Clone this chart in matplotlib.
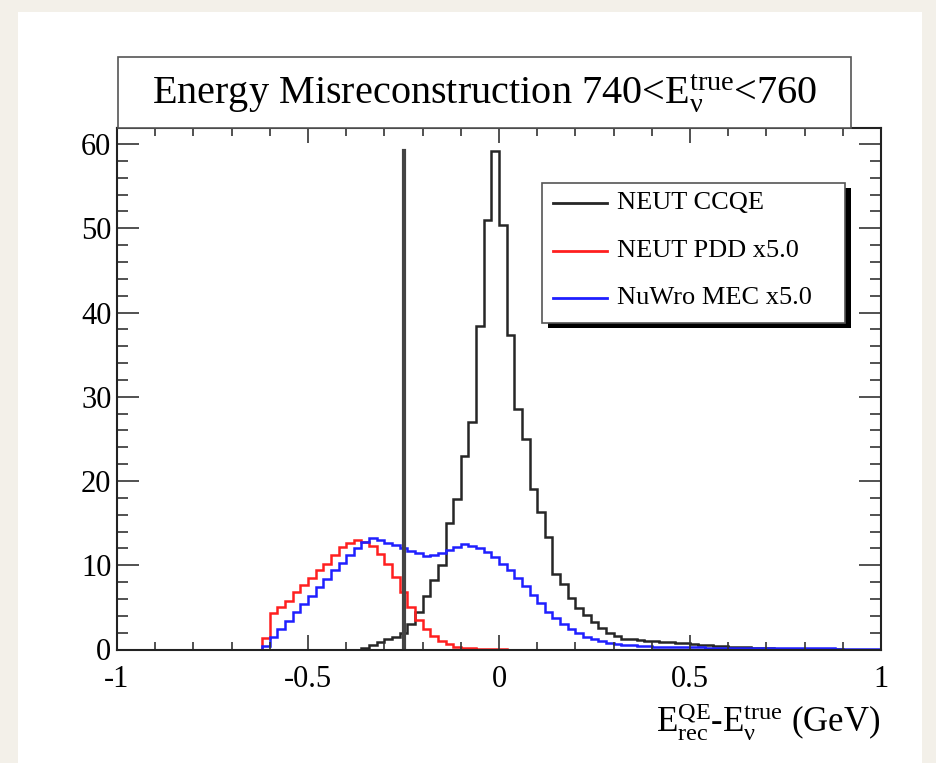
import numpy as np
import matplotlib
matplotlib.use('Agg')
import matplotlib.pyplot as plt
from matplotlib.patches import Rectangle
from matplotlib.lines import Line2D

plt.rcParams['font.family'] = ['Liberation Serif', 'DejaVu Serif']
plt.rcParams['mathtext.fontset'] = 'custom'
plt.rcParams['mathtext.rm'] = 'Liberation Serif'
plt.rcParams['mathtext.it'] = 'Liberation Serif:italic'
plt.rcParams['mathtext.bf'] = 'Liberation Serif:bold'

# 100 bins of 20 MeV between -1 and 1 GeV
bin_lo, bin_hi, n_bins = -1.0, 1.0, 100
cut_value = -0.25

# NEUT CCQE, first bin starts at -0.36
ccqe_first = -0.36
ccqe_vals = [0.15, 0.5, 0.9, 1.2, 1.5, 2.0, 3.0, 4.5, 6.3, 8.2,
             10.0, 15.0, 17.9, 23.0, 27.0, 38.4, 51.0, 59.2, 50.4, 37.3,
             28.6, 25.0, 19.1, 16.3, 13.4, 9.0, 7.8, 6.1, 4.9, 4.1,
             3.3, 2.5, 1.9, 1.6, 1.3, 1.2, 1.1, 1.0, 0.95, 0.9,
             0.85, 0.8, 0.75, 0.65, 0.55, 0.5, 0.45, 0.4, 0.35, 0.3,
             0.25, 0.2, 0.15, 0.12, 0.1, 0.08, 0.06, 0.05, 0.04, 0.03,
             0.02, 0.02, 0.01]

# NEUT PDD x5, first bin starts at -0.62
pdd_first = -0.62
pdd_vals = [1.4, 4.3, 5.0, 5.8, 6.8, 7.6, 8.5, 9.4, 10.2, 11.2,
            12.2, 12.7, 13.0, 12.8, 12.3, 11.3, 10.2, 8.6, 6.8, 5.0,
            3.5, 2.4, 1.6, 1.0, 0.6, 0.35, 0.2, 0.12, 0.08, 0.05,
            0.03, 0.02]

# NuWro MEC x5, first bin starts at -0.62
mec_first = -0.62
mec_vals = [0.4, 1.5, 2.4, 3.4, 4.4, 5.4, 6.4, 7.4, 8.4, 9.4,
            10.3, 11.2, 12.0, 12.8, 13.2, 13.0, 12.7, 12.4, 12.0, 11.7,
            11.4, 11.1, 11.2, 11.5, 11.8, 12.2, 12.5, 12.3, 12.0, 11.6,
            11.0, 10.2, 9.4, 8.5, 7.5, 6.5, 5.5, 4.5, 3.7, 3.0,
            2.4, 1.9, 1.5, 1.2, 0.95, 0.8, 0.65, 0.55, 0.5, 0.45,
            0.4, 0.35, 0.3, 0.3, 0.28, 0.26, 0.25, 0.24, 0.22, 0.2,
            0.2, 0.2, 0.18, 0.18, 0.16, 0.16, 0.15, 0.15, 0.14, 0.14,
            0.13, 0.13, 0.12, 0.12, 0.12, 0.1, 0.1, 0.1, 0.1, 0.1, 0.1]

labels = ['NEUT CCQE', 'NEUT PDD x5.0', 'NuWro MEC x5.0']
colors = ['#262626', '#ff1f1f', '#1f1fff']

xtick_vals = [-1, -0.5, 0, 0.5, 1]
xtick_labels = ['-1', '-0.5', '0', '0.5', '1']
ytick_vals = [0, 10, 20, 30, 40, 50, 60]

title = r'Energy Misreconstruction 740<$\mathrm{E}_{\mathrm{\nu}}^{\mathrm{true}}$<760'
xlabel = r'$\mathrm{E}^{\mathrm{QE}}_{\mathrm{rec}}$-$\mathrm{E}^{\mathrm{true}}_{\mathrm{\nu}}$ (GeV)'


def fill_hist(first, vals):
    h = np.zeros(n_bins)
    i0 = int(round((first - bin_lo) / ((bin_hi - bin_lo) / n_bins)))
    h[i0:i0 + len(vals)] = vals
    return h


W, H = 936, 763


def fx(px):
    return px / W


def fy(py):
    return 1 - py / H


edges = np.linspace(bin_lo, bin_hi, n_bins + 1)
hists = [fill_hist(ccqe_first, ccqe_vals),
         fill_hist(pdd_first, pdd_vals),
         fill_hist(mec_first, mec_vals)]

fig = plt.figure(figsize=(W / 100, H / 100), dpi=100, facecolor='#f3f0e9')
fig.add_artist(Rectangle((fx(18), 0), fx(922) - fx(18), fy(12), transform=fig.transFigure,
                         facecolor='white', edgecolor='none', zorder=-10))

ax = fig.add_axes([fx(117), fy(649.5), fx(881) - fx(117), fy(128.3) - fy(649.5)])
for h, c in zip(hists, colors):
    ax.stairs(h, edges, color=c, lw=1.8)
ax.plot([cut_value, cut_value], [0, hists[0].max()], color='#444444', lw=3.0)

ax.set_xlim(bin_lo, bin_hi)
ax.set_ylim(0, hists[0].max() * 1.045)
ax.set_xticks(xtick_vals)
ax.set_xticklabels(xtick_labels)
ax.set_xticks(np.arange(-1, 1.001, 0.1), minor=True)
ax.set_yticks(ytick_vals)
ax.set_yticks(np.arange(0, 62, 2), minor=True)
ax.tick_params(which='both', direction='in', top=True, right=True, width=1.2, color='#333333')
ax.tick_params(axis='x', which='major', length=11, pad=11, labelsize=22)
ax.tick_params(axis='x', which='minor', length=5.5)
ax.tick_params(axis='y', which='major', length=16, pad=4, labelsize=22)
ax.tick_params(axis='y', which='minor', length=8)
for s in ax.spines.values():
    s.set_linewidth(1.5)
    s.set_color('#222222')

# title box
fig.add_artist(Rectangle((fx(118), fy(128)), fx(851) - fx(118), fy(57) - fy(128),
                         transform=fig.transFigure, facecolor='white', edgecolor='#555555',
                         lw=1.2, zorder=5))
fig.text(fx(485), fy(94), title, ha='center', va='center', fontsize=29, zorder=6)

# legend box with shadow
lx0, lx1, ly0, ly1 = 541.7, 845, 182.7, 323.3
fig.add_artist(Rectangle((fx(lx0 + 6), fy(ly1 + 5)), fx(lx1) - fx(lx0), fy(ly0) - fy(ly1),
                         transform=fig.transFigure, facecolor='black', edgecolor='none', zorder=5))
fig.add_artist(Rectangle((fx(lx0), fy(ly1)), fx(lx1) - fx(lx0), fy(ly0) - fy(ly1),
                         transform=fig.transFigure, facecolor='white', edgecolor='#555555',
                         lw=1.2, zorder=6))
for k, (lab, c) in enumerate(zip(labels, colors)):
    yy = 203.3 + k * 47.5
    fig.add_artist(Line2D([fx(553), fx(607)], [fy(yy), fy(yy)], transform=fig.transFigure,
                          color=c, lw=2.0, zorder=7))
    fig.text(fx(617), fy(yy), lab, ha='left', va='center', fontsize=19, zorder=7)

fig.text(fx(880), fy(722), xlabel, ha='right', va='center', fontsize=25)

fig.savefig('out.png', dpi=100, facecolor=fig.get_facecolor())
